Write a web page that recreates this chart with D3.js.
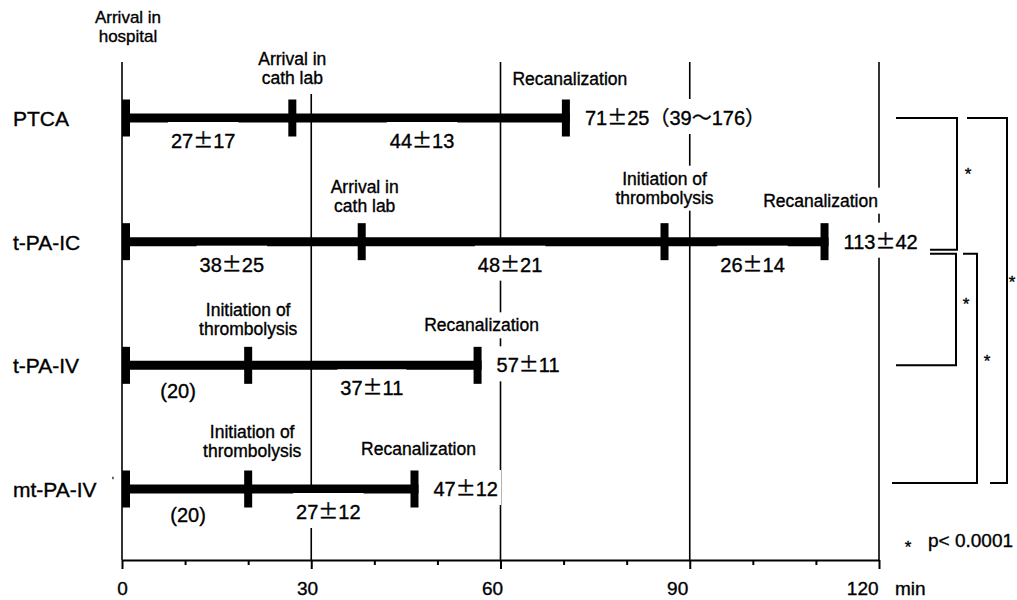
<!DOCTYPE html>
<html><head><meta charset="utf-8">
<script src="https://cdn.jsdelivr.net/npm/d3@7"></script>
<style>
body{margin:0;background:#fff}
svg{display:block}
text{font-family:"Liberation Sans",Arial,"Noto Sans CJK JP",sans-serif;fill:#000;stroke:#000;stroke-width:0.35px}
</style>
</head><body>
<svg id="c" width="1017" height="600"></svg>
<script>
// ---------------- data ----------------
const categories = ["PTCA", "t-PA-IC", "t-PA-IV", "mt-PA-IV"];
const eventTimes = [[0, 27, 71], [0, 38, 86, 112], [0, 20, 57], [0, 20, 47]];
const eventNames = [
  [null, "Arrival in\ncath lab", "Recanalization"],
  [null, "Arrival in\ncath lab", "Initiation of\nthrombolysis", "Recanalization"],
  [null, "Initiation of\nthrombolysis", "Recanalization"],
  [null, "Initiation of\nthrombolysis", "Recanalization"]
];
const startLabel = "Arrival in\nhospital";
const segmentLabels = [["27±17", "44±13"], ["38±25", "48±21", "26±14"], ["(20)", "37±11"], ["(20)", "27±12"]];
const totalLabels = ["71±25（39～176）", "113±42", "57±11", "47±12"];
const xTicks = [0, 30, 60, 90, 120];
const xMinorTicks = [10, 20, 40, 50, 70, 80, 100, 110];
const axisUnit = "min";
const comparisons = [[0, 1], [1, 2], [1, 3], [0, 3]];
const sigMark = "*";
const pLabel = "p< 0.0001";

// ---------------- layout ----------------
const svg = d3.select("#c");
const x = d3.scaleLinear().domain([0, 120]).range([122, 879]);
const y = d3.scalePoint().domain(categories).range([118, 489]);
const gridTop = 62, axisY = 560;
const capW = 8, capH = 37, barW = 9;
const segDx = [[-4, -9], [-10, -3, 6], [-7, 7], [3, -5]];
const evDx = [[0, 0, 0], [0, 3, 0, -8], [0, 0, 0], [0, 4, 0]];
const evDy = [[0, -2, 0], [0, 2, -6, -2], [0, 2, -1], [0, 0, -1]];

// grid lines
svg.append("g").selectAll("line").data(xTicks).join("line")
  .attr("x1", d => x(d)).attr("x2", d => x(d))
  .attr("y1", gridTop).attr("y2", axisY)
  .attr("stroke", "#000").attr("stroke-width", 1.6);

// axis
const gAxis = svg.append("g").attr("transform", `translate(0,${axisY})`)
  .call(d3.axisBottom(x).tickValues(xTicks).tickSize(9).tickSizeOuter(0));
gAxis.select(".domain").attr("stroke", "#000").attr("stroke-width", 2);
gAxis.selectAll(".tick line").attr("stroke", "#000").attr("stroke-width", 2);
gAxis.selectAll(".tick text")
  .attr("y", 35).attr("dy", 0)
  .attr("dx", d => -d * 0.14)
  .style("font-family", '"Liberation Sans",Arial,sans-serif')
  .style("font-size", "19px").attr("fill", "#000");
gAxis.attr("font-family", null).attr("font-size", null);
const gMinor = svg.append("g").attr("transform", `translate(0,${axisY})`)
  .call(d3.axisBottom(x).tickValues(xMinorTicks).tickSize(5).tickFormat(""));
gMinor.select(".domain").remove();
gMinor.selectAll(".tick line").attr("stroke", "#000").attr("stroke-width", 2);
svg.append("text").attr("x", 895).attr("y", axisY + 35)
  .style("font-size", "19px").text(axisUnit);

// bars
const gBars = svg.append("g");
categories.forEach((c, i) => {
  const t = eventTimes[i], yc = y(c);
  gBars.append("line")
    .attr("x1", x(t[0])).attr("x2", x(t[t.length - 1]))
    .attr("y1", yc).attr("y2", yc)
    .attr("stroke", "#000").attr("stroke-width", barW);
  gBars.selectAll(null).data(t).join("rect")
    .attr("x", (d, j) => j === 0 ? x(d) : (j === t.length - 1 ? x(d) - capW : x(d) - capW / 2))
    .attr("y", yc - capH / 2).attr("width", capW).attr("height", capH)
    .attr("fill", "#000");
});

// helpers
const gLab = svg.append("g");
function fillNumber(text, str) {
  str.split(/([±（）～])/).filter(s => s.length).forEach(s => {
    const ts = text.append("tspan").text(s);
    if (/[±（）～]/.test(s)) ts.style("font-family", '"Noto Sans CJK JP",sans-serif');
  });
}
function label(lines, cx, baseline, opts = {}) {
  const g = gLab.append("g");
  const r = g.append("rect").attr("fill", "#fff");
  const fs = opts.size || 17.5, lh = opts.lh || 19;
  const t = g.append("text").attr("text-anchor", opts.anchor || "middle")
    .style("font-size", fs + "px");
  const arr = lines.split("\n");
  const first = baseline - (arr.length - 1) * lh;
  if (opts.number) {
    t.attr("x", cx).attr("y", baseline);
    fillNumber(t, lines);
  } else {
    arr.forEach((l, k) => t.append("tspan").attr("x", cx).attr("y", first + k * lh).text(l));
  }
  const b = t.node().getBBox(), p = opts.pad || 3;
  r.attr("x", b.x - p).attr("y", b.y - p).attr("width", b.width + 2 * p).attr("height", b.height + 2 * p + (opts.padB || 0));
  return t;
}

// start label (top)
label(startLabel, x(0) + 6, 42, {lh: 19, size: 17});

categories.forEach((c, i) => {
  const t = eventTimes[i], yc = y(c);
  // row label
  svg.append("text").attr("x", 13).attr("y", yc + 8).style("font-size", "21px").text(c);
  // event labels
  eventNames[i].forEach((n, j) => {
    if (!n) return;
    const two = n.includes("\n");
    const base = yc + (two ? -32 : -33) + evDy[i][j];
    label(n, x(t[j]) + evDx[i][j], base, {padB: (i === 0 && j === 1) ? 3 : 0});
  });
  // segment labels
  segmentLabels[i].forEach((s, j) => {
    const mid = (x(t[j]) + x(t[j + 1])) / 2 + segDx[i][j];
    label(s, mid, yc + (s.startsWith("(") ? 33 : 30), {number: true, size: 20});
  });
  // total label
  label(totalLabels[i], x(t[t.length - 1]) + 15, yc + 7, {number: true, size: 20, anchor: "start"});
});
// tiny mark on last row label
svg.append("text").attr("x", 112).attr("y", y(categories[3]) - 6).style("font-size", "9px").text("'");

// comparison brackets
const y1m = y(categories[1]);
const br = [
  [[896, y(categories[0])], [957, y(categories[0])], [957, y1m + 8], [930, y1m + 8]],
  [[930, y1m + 12], [956, y1m + 12], [956, y(categories[2])], [896, y(categories[2])]],
  [[963, y1m + 12], [977, y1m + 12], [977, y(categories[3]) - 6], [892, y(categories[3]) - 6]],
  [[967, y(categories[0])], [1007, y(categories[0])], [1007, y(categories[3]) - 6], [990, y(categories[3]) - 6]]
];
const starPos = [[968, 180], [966, 310], [987, 367], [1012, 288]];
const line = d3.line();
comparisons.forEach((cmp, k) => {
  svg.append("path").attr("d", line(br[k])).attr("fill", "none")
    .attr("stroke", "#000").attr("stroke-width", 2);
  svg.append("text").attr("x", starPos[k][0]).attr("y", starPos[k][1])
    .attr("text-anchor", "middle").style("font-size", "17px").text(sigMark);
});

// legend
svg.append("text").attr("x", 908).attr("y", 553).attr("text-anchor", "middle").style("font-size", "17px").text(sigMark);
svg.append("text").attr("x", 928).attr("y", 547).style("font-size", "19px").text(pLabel);
</script>
</body></html>
